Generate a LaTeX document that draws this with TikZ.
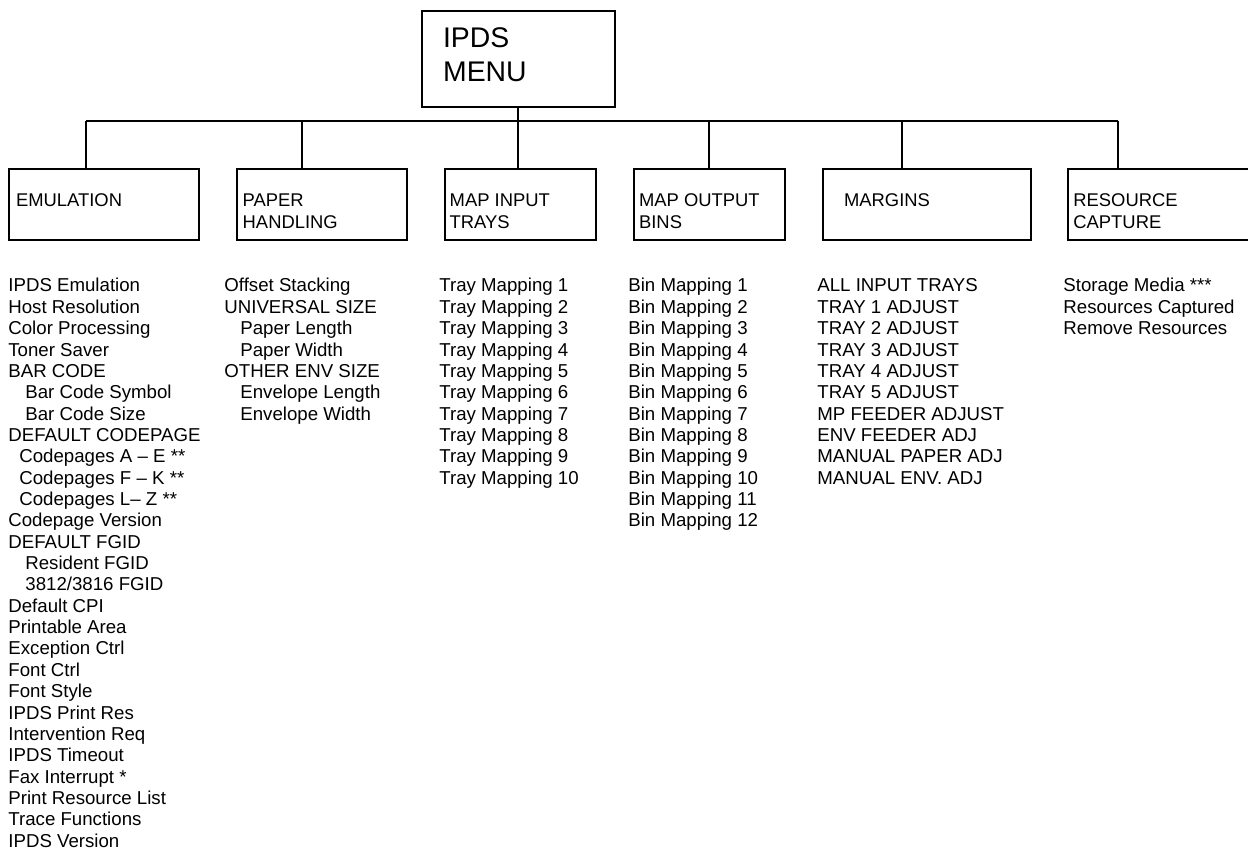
\documentclass[tikz,border=0pt]{standalone}
\usepackage{fontspec}
\setmainfont{Liberation Sans}
\begin{document}
\begin{tikzpicture}[x=0.5pt,y=-0.5pt,
  box/.style={draw=black, line width=1pt, rectangle, inner sep=0pt, anchor=north west},
  conn/.style={draw=black, line width=1pt},
  boxlabel/.style={anchor=base west, inner sep=0pt, font=\fontsize{9.2pt}{11pt}\selectfont},
  menulabel/.style={anchor=base west, inner sep=0pt, font=\fontsize{14.2pt}{17pt}\selectfont},
  item/.style={anchor=base west, inner sep=0pt, font=\fontsize{9.33pt}{10.7pt}\selectfont}]
\useasboundingbox (0,0) rectangle (1248,850);

% top box
\node[box, minimum width=96.7pt, minimum height=48pt] (top) at (421,10) {};
\node[menulabel] (topL1) at (442.7,47.7) {IPDS};
\node[menulabel] (topL2) at (442.7,82) {MENU};

% second-level boxes
\node[box, minimum width=95pt, minimum height=35.5pt] (emu) at (8.3,167.7) {};
\node[box, minimum width=85.3pt, minimum height=35.5pt] (paper) at (235.7,167.7) {};
\node[box, minimum width=75.8pt, minimum height=35.5pt] (mapin) at (443.7,167.7) {};
\node[box, minimum width=75.7pt, minimum height=35.5pt] (mapout) at (633,167.7) {};
\node[box, minimum width=104.3pt, minimum height=35.5pt] (marg) at (821.7,167.7) {};
\node[box, minimum width=96pt, minimum height=35.5pt] (res) at (1067,167.7) {};

\node[boxlabel] (emuL) at (15.7,207) {EMULATION};
\node[boxlabel] (paperL1) at (242.3,207) {PAPER};
\node[boxlabel] (paperL2) at (242.3,229) {HANDLING};
\node[boxlabel] (mapinL1) at (449.3,207) {MAP INPUT};
\node[boxlabel] (mapinL2) at (449.3,229) {TRAYS};
\node[boxlabel] (mapoutL1) at (638.7,207) {MAP OUTPUT};
\node[boxlabel] (mapoutL2) at (638.7,229) {BINS};
\node[boxlabel] (margL) at (843.7,207) {MARGINS};
\node[boxlabel] (resL1) at (1073,207) {RESOURCE};
\node[boxlabel] (resL2) at (1073,229) {CAPTURE};

% connectors
\coordinate (bus) at (0,120.7);
\coordinate (d1) at (86,120.7);
\coordinate (d2) at (301.7,120.7);
\coordinate (d3) at (517.7,120.7);
\coordinate (d4) at (709.3,120.7);
\coordinate (d5) at (902,120.7);
\coordinate (d6) at (1118,120.7);
\draw[conn] (top.south -| d3) -- (d3);
\draw[conn] (d1) -- (d6);
\draw[conn] (d1) -- (d1 |- emu.north);
\draw[conn] (d2) -- (d2 |- paper.north);
\draw[conn] (d3) -- (d3 |- mapin.north);
\draw[conn] (d4) -- (d4 |- mapout.north);
\draw[conn] (d5) -- (d5 |- marg.north);
\draw[conn] (d6) -- (d6 |- res.north);

% lists
\foreach \d/\t [count=\i] in {0/IPDS Emulation, 0/Host Resolution, 0/Color Processing, 0/Toner Saver,
  0/BAR CODE, 17/Bar Code Symbol, 17/Bar Code Size, 0/DEFAULT CODEPAGE,
  11/Codepages A – E **, 11/Codepages F – K **, 11/Codepages L– Z **, 0/Codepage Version,
  0/DEFAULT FGID, 17/Resident FGID, 17/{3812/3816 FGID}, 0/Default CPI, 0/Printable Area,
  0/Exception Ctrl, 0/Font Ctrl, 0/Font Style, 0/IPDS Print Res, 0/Intervention Req,
  0/IPDS Timeout, 0/Fax Interrupt *, 0/Print Resource List, 0/Trace Functions, 0/IPDS Version}
  \node[item] (emuI\i) at ({8+\d},{292+(\i-1)*21.35}) {\t};

\foreach \d/\t [count=\i] in {0/Offset Stacking, 0/UNIVERSAL SIZE, 16/Paper Length, 16/Paper Width,
  0/OTHER ENV SIZE, 16/Envelope Length, 16/Envelope Width}
  \node[item] (paperI\i) at ({224+\d},{292+(\i-1)*21.35}) {\t};

\foreach \i in {1,...,10}
  \node[item] (mapinI\i) at (439,{292+(\i-1)*21.35}) {Tray Mapping \i};

\foreach \i in {1,...,12}
  \node[item] (mapoutI\i) at (628,{292+(\i-1)*21.35}) {Bin Mapping \i};

\foreach \t [count=\i] in {ALL INPUT TRAYS, TRAY 1 ADJUST, TRAY 2 ADJUST, TRAY 3 ADJUST,
  TRAY 4 ADJUST, TRAY 5 ADJUST, MP FEEDER ADJUST, ENV FEEDER ADJ, MANUAL PAPER ADJ, MANUAL ENV. ADJ}
  \node[item] (margI\i) at (817,{292+(\i-1)*21.35}) {\t};

\foreach \t [count=\i] in {Storage Media ***, Resources Captured, Remove Resources}
  \node[item] (resI\i) at (1063,{292+(\i-1)*21.35}) {\t};
\end{tikzpicture}
\end{document}
